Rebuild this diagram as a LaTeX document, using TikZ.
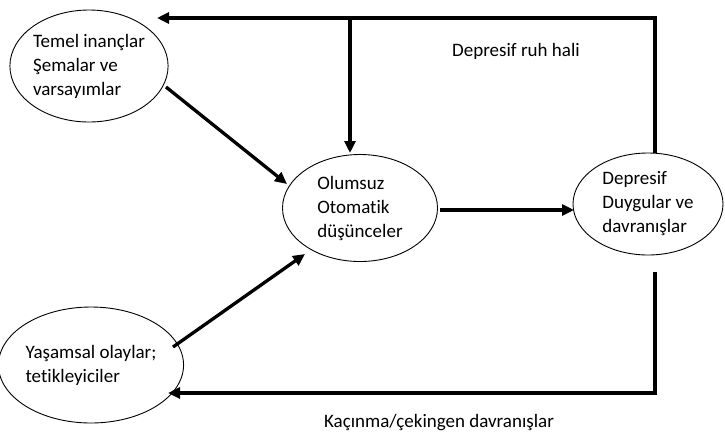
\documentclass[tikz,border=0pt]{standalone}
\usepackage{fontspec}
\setmainfont{Carlito}[Ligatures=NoCommon]
\usetikzlibrary{shapes.geometric,arrows.meta}
\begin{document}
\begin{tikzpicture}[x=1pt,y=-1pt,
  oval/.style={ellipse,draw,line width=0.9pt,inner sep=0pt,align=left,
    font=\fontsize{19}{24}\selectfont},
  lbl/.style={font=\fontsize{19}{24}\selectfont},
  conn/.style={line width=3.3pt,-{Triangle[length=12pt,width=11pt]}}]
\useasboundingbox (0,0) rectangle (725,440);
\node[oval,minimum width=158pt,minimum height=112pt] (tem) at (89,66) {Temel inançlar\\Şemalar ve\\varsayımlar};
\node[oval,minimum width=155pt,minimum height=107pt] (olu) at (360,208) {Olumsuz\\Otomatik\\düşünceler};
\node[oval,minimum width=150pt,minimum height=102pt] (dep) at (648,204) {Depresif\\Duygular ve\\davranışlar};
\node[oval,minimum width=158pt,minimum height=116pt] (yas) at (91,365) {Yaşamsal olaylar;\\tetikleyiciler};
\node[lbl] (ruh) at (516,51) {Depresif ruh hali};
\node[lbl] (kac) at (439,423) {Kaçınma/çekingen davranışlar};
\coordinate (dtop) at (655,153);
\coordinate (tcorner) at (655,18);
\coordinate (tend) at (157,18);
\coordinate (vstart) at (350,18);
\coordinate (vend) at (350,153);
\coordinate (dbot) at (655,272);
\coordinate (bcorner) at (655,393);
\coordinate (bend) at (168,393);
\coordinate (t1) at (166,87);
\coordinate (t2) at (287,184);
\coordinate (y1) at (173,347);
\coordinate (y2) at (305,254);
\coordinate (o1) at (440,210);
\coordinate (o2) at (574,210);
\draw[conn] (dtop) -- (tcorner) -- (tend);
\draw[conn] (vstart) -- (vend);
\draw[conn] (dbot) -- (bcorner) -- (bend);
\draw[conn] (t1) -- (t2);
\draw[conn] (y1) -- (y2);
\draw[conn] (o1) -- (o2);
\end{tikzpicture}
\end{document}
